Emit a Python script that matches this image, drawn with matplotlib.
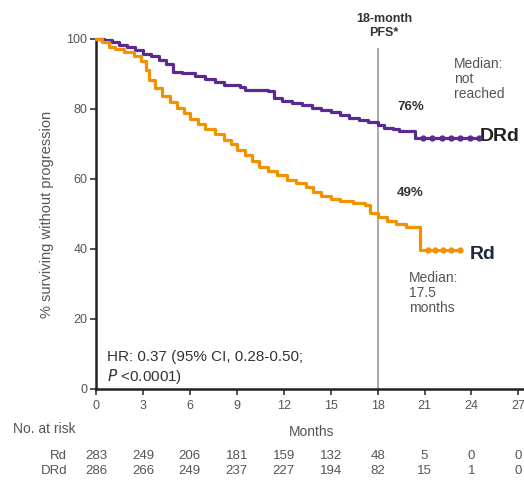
import matplotlib
matplotlib.use("Agg")
import matplotlib.pyplot as plt

plt.rcParams["font.family"] = ["Liberation Sans", "DejaVu Sans"]

# Kaplan-Meier steps (months, % progression-free)
drd_months = [0, 0.5, 1.0, 1.5, 2.0, 2.5, 3.0, 3.5, 4.0, 4.5, 4.9, 5.5, 6.3, 7.0, 7.6, 8.2,
              9.2, 9.5, 11.0, 11.4, 11.9, 12.5, 13.2, 13.8, 14.4, 15.0, 15.6, 16.2, 16.8,
              17.4, 18.0, 18.4, 19.0, 19.4, 20.4, 24.5]
drd_pct = [100, 99.6, 99.0, 98.4, 97.6, 96.8, 95.8, 95.0, 94.0, 92.8, 90.6, 90.2, 89.4, 88.6,
           87.8, 86.9, 86.4, 85.4, 85.0, 83.0, 82.4, 81.8, 81.0, 80.3, 79.6, 79.0, 78.2, 77.5,
           76.8, 76.2, 75.5, 74.6, 74.2, 73.8, 71.6, 71.6]
drd_censor = [20.9, 21.5, 22.1, 22.7, 23.3, 23.9, 24.5]

rd_months = [0, 0.4, 0.8, 1.2, 1.8, 2.4, 2.9, 3.2, 3.4, 3.8, 4.2, 4.7, 5.2, 5.6, 6.0, 6.5, 7.0,
             7.6, 8.2, 8.6, 9.0, 9.5, 10.0, 10.4, 11.0, 11.6, 12.2, 12.8, 13.4, 13.9, 14.4,
             15.0, 15.6, 16.4, 17.2, 17.5, 18.0, 18.6, 19.2, 19.8, 20.7, 23.3]
rd_pct = [100, 99.0, 97.8, 97.0, 96.2, 95.0, 93.6, 91.0, 88.4, 86.0, 83.8, 82.0, 80.4, 78.8,
          77.0, 75.6, 74.2, 72.8, 71.2, 70.0, 68.2, 66.8, 65.0, 63.4, 62.2, 61.0, 59.8, 58.8,
          57.8, 56.4, 55.2, 54.2, 53.6, 53.2, 52.6, 50.4, 49.2, 48.0, 47.2, 46.4, 39.7, 39.7]
rd_censor = [21.2, 21.7, 22.2, 22.7, 23.3]

risk_months = [0, 3, 6, 9, 12, 15, 18, 21, 24, 27]
rd_risk = [283, 249, 206, 181, 159, 132, 48, 5, 0, 0]
drd_risk = [286, 266, 249, 237, 227, 194, 82, 15, 1, 0]

purple = "#5b2a91"
orange = "#f39200"
grey = "#555555"

fig = plt.figure(figsize=(5.24, 4.8), dpi=100)
ax = fig.add_axes([0.1832, 0.1896, 0.815, 0.7292])

ax.step(drd_months, drd_pct, where="post", color=purple, lw=2.3, clip_on=False, zorder=3)
ax.step(rd_months, rd_pct, where="post", color=orange, lw=2.3, clip_on=False, zorder=3)
ax.plot(drd_censor, [drd_pct[-1]] * len(drd_censor), "o", color=purple, ms=3.5, clip_on=False, zorder=4)
ax.plot(rd_censor, [rd_pct[-1]] * len(rd_censor), "o", color=orange, ms=3.5, clip_on=False, zorder=4)

# 18-month landmark
ax.vlines(18, 0, 97.5, color="#999999", lw=1.2, zorder=1)
ax.text(18.4, 103.8, "18-month\nPFS*", ha="center", va="center", fontsize=9,
        fontweight="bold", color="#333333", linespacing=1.2, clip_on=False)

ax.text(20.1, 80.6, "76%", ha="center", va="center", fontsize=9.5, fontweight="bold", color="#333333")
ax.text(20.1, 56, "49%", ha="center", va="center", fontsize=9.5, fontweight="bold", color="#333333")
ax.text(24.5, 72, "DRd", ha="left", va="center", fontsize=14, fontweight="bold", color="#222222")
ax.text(23.9, 38.3, "Rd", ha="left", va="center", fontsize=14, fontweight="bold", color="#1f2a3a")
ax.text(22.9, 94.8, "Median:\nnot\nreached", ha="left", va="top", fontsize=10, color=grey, linespacing=1.1)
ax.text(20.0, 33.8, "Median:\n17.5\nmonths", ha="left", va="top", fontsize=10, color=grey, linespacing=1.1)
ax.text(0.7, 6, "HR: 0.37 (95% CI, 0.28-0.50;\n$P$ <0.0001)", ha="left", va="center",
        fontsize=11, color="#333333", linespacing=1.2)

ax.set_xlim(0, 27.3)
ax.set_ylim(0, 100)
ax.set_xticks(risk_months)
ax.set_yticks([0, 20, 40, 60, 80, 100])
ax.tick_params(axis="both", labelsize=9, labelcolor=grey, color="#333333", length=4.3, width=1.2, pad=2)
ax.tick_params(axis="x", direction="out", length=4, pad=4)
for side in ["top", "right"]:
    ax.spines[side].set_visible(False)
for side in ["left", "bottom"]:
    ax.spines[side].set_linewidth(1.8)
    ax.spines[side].set_color("#222222")

ax.set_ylabel("% surviving without progression", fontsize=10.5, color=grey, labelpad=9)

# x label and number at risk table
fig.text(312 / 524, 1 - 432 / 480, "Months", ha="center", va="center", fontsize=10, color=grey)
fig.text(13 / 524, 1 - 429 / 480, "No. at risk", ha="left", va="center", fontsize=10, color=grey)
fig.text(67 / 524, 1 - 456 / 480, "Rd", ha="right", va="center", fontsize=9.5, color=grey)
fig.text(67 / 524, 1 - 471 / 480, "DRd", ha="right", va="center", fontsize=9.5, color=grey)
for m, a, b in zip(risk_months, rd_risk, drd_risk):
    ax.annotate(str(a), xy=(m, 1 - 456 / 480), xycoords=("data", "figure fraction"),
                ha="center", va="center", fontsize=9.5, color=grey, annotation_clip=False)
    ax.annotate(str(b), xy=(m, 1 - 471 / 480), xycoords=("data", "figure fraction"),
                ha="center", va="center", fontsize=9.5, color=grey, annotation_clip=False)

fig.savefig("out.png", dpi=100)
